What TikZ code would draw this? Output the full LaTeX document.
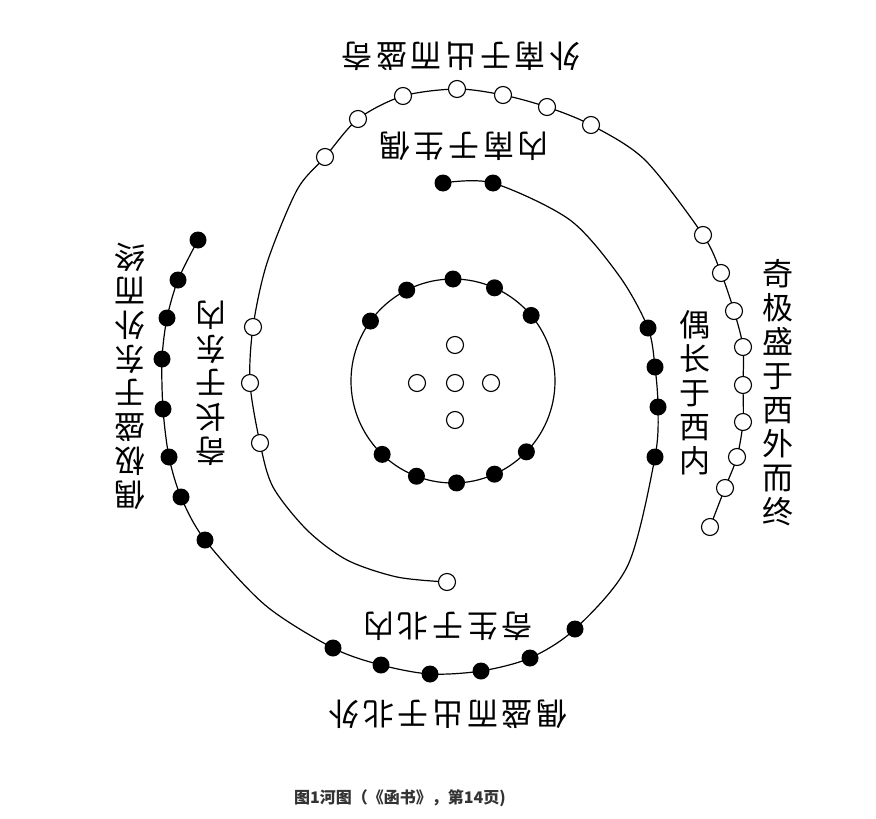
\documentclass[tikz,border=0pt]{standalone}
\usepackage{fontspec}
\newfontfamily\cjk{Noto Sans CJK SC}

\begin{document}
\begin{tikzpicture}[x=1pt,y=-1pt,
    odd/.style={circle,draw,fill=white,line width=1.1pt,minimum size=17pt,inner sep=0pt},
    even/.style={circle,fill=black,minimum size=17pt,inner sep=0pt},
    track/.style={line width=1.2pt},
    hlabel/.style={inner sep=0pt,font=\cjk\fontsize{31}{34}\selectfont\addfontfeature{LetterSpace=12}},
    vlabel/.style={inner sep=0pt,align=center,font=\cjk\fontsize{31}{34}\selectfont}]
    \useasboundingbox (0,0) rectangle (876,819);

    % odd numbers: 1 north, 3 east, 7 south, 9 west
    \foreach \x/\y [count=\i] in {447/582,260/443,250/383,253/327,325/157,358/119,403/96,457/89,
        503/95,547/107,591/125,703/235,721/273,734/311,743/347,743/385,743/422,737/457,725/488,710/527}
        \coordinate (w\i) at (\x,\y);
    % even numbers: 2 south, 4 west, 6 north, 8 east
    \foreach \x/\y [count=\i] in {443/183,493/183,648/328,655/367,658/407,655/457,575/629,530/658,
        481/671,430/674,381/665,333/648,205/540,181/497,169/457,163/409,162/359,167/318,178/280,198/240}
        \coordinate (b\i) at (\x,\y);

    \draw[track] plot[smooth] coordinates {(w1) (397,577) (347,560) (307,530) (273,487) (w2) (w3) (w4)
        (267,263) (297,190) (w5) (w6) (w7) (w8) (w9) (w10) (w11) (645,160) (w12) (w13) (w14) (w15)
        (w16) (w17) (w18) (w19) (w20)};
    \draw[track] plot[smooth] coordinates {(b1) (b2) (570,220) (620,277) (b3) (b4) (b5) (b6) (628,565)
        (b7) (b8) (b9) (b10) (b11) (b12) (265,605) (b13) (b14) (b15) (b16) (b17) (b18) (b19) (b20)};

    \foreach \i in {1,...,20} {
        \node[odd] (W\i) at (w\i) {};
        \node[even] (B\i) at (b\i) {};
    }

    % the ten of the middle ring and the five of the centre
    \draw[track] (453,381) coordinate (o) circle (102);
    \foreach \a [count=\i] in {-144,-117,-90,-66,-40,134,111,88,66,44}
        \node[even] (r\i) at ([shift={(\a:102)}]o) {};
    \foreach \x/\y [count=\i] in {455/345,417/383,455/383,491/383,455/420}
        \node[odd] (c\i) at (\x,\y) {};

    \node[hlabel,rotate=180] (southout) at (461,56) {外南于出而盛奇};
    \node[hlabel,rotate=180] (southin) at (464,146) {内南于生偶};
    \node[hlabel,rotate=180] (northin) at (448,626) {奇生于北内};
    \node[hlabel,rotate=180] (northout) at (448,714) {偶盛而出于北外};
    \node[vlabel] (westin) at (695,393) {偶\\长\\于\\西\\内};
    \node[vlabel] (westout) at (778,393) {奇\\极\\盛\\于\\西\\外\\而\\终};
    \node[vlabel,rotate=180] (eastout) at (130,376) {偶\\极\\盛\\于\\东\\外\\而\\终};
    \node[vlabel,rotate=180] (eastin) at (211,383) {奇\\长\\于\\东\\内};

    \node[font=\cjk\bfseries\fontsize{16}{16}\selectfont,text=black!80] (caption) at (400,798)
        {图1河图（《函书》，第14页)};
\end{tikzpicture}
\end{document}
